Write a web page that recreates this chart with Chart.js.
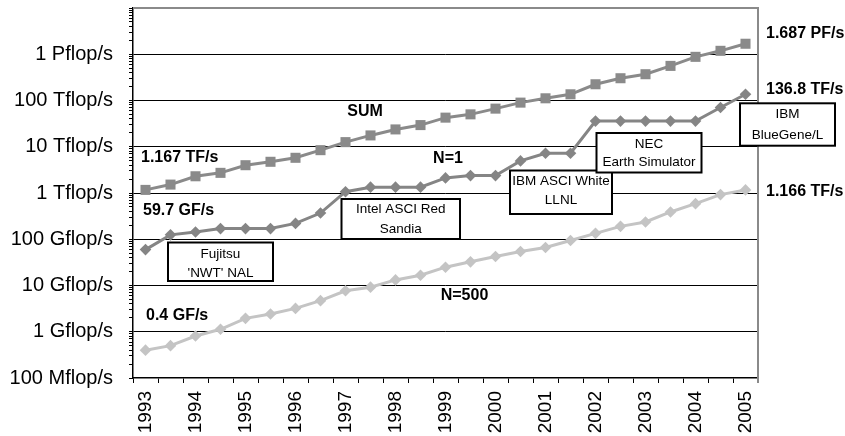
<!DOCTYPE html>
<html>
<head>
<meta charset="utf-8">
<script src="https://cdn.jsdelivr.net/npm/chart.js@4/dist/chart.umd.min.js"></script>
<style>
html,body{margin:0;padding:0;background:#fff;}
#wrap{width:845px;height:436px;position:relative;}
</style>
</head>
<body>
<div id="wrap"><canvas id="c" width="845" height="436"></canvas></div>
<script>
// ---- data (GF/s) ----
const lists = ['1993-06','1993-11','1994-06','1994-11','1995-06','1995-11','1996-06','1996-11',
  '1997-06','1997-11','1998-06','1998-11','1999-06','1999-11','2000-06','2000-11','2001-06','2001-11',
  '2002-06','2002-11','2003-06','2003-11','2004-06','2004-11','2005-06'];
const yearLabels = ['1993','','1994','','1995','','1996','','1997','','1998','','1999','','2000','',
  '2001','','2002','','2003','','2004','','2005'];
const sumValues = [1167, 1520, 2300, 2727, 3990, 4730, 5770, 8440, 12590, 17580, 23700, 29400, 42600,
  50200, 66700, 90000, 111600, 136200, 224500, 303000, 370000, 560000, 879000, 1186000, 1687000];
const n1Values = [59.7, 124.5, 143.4, 170, 170, 170, 220.4, 368.2, 1068, 1338, 1338, 1338, 2121, 2379,
  2379, 4938, 7226, 7226, 35860, 35860, 35860, 35860, 35860, 70720, 136800];
const n500Values = [0.4, 0.50, 0.81, 1.13, 1.95, 2.42, 3.2, 4.7, 7.7, 9.2, 13.2, 16.7, 24.9, 32.5, 42.4,
  54.4, 66.4, 94.2, 134, 190, 236, 389, 589, 923, 1166];
const decadeValues = [0.1, 1, 10, 100, 1000, 10000, 100000, 1000000, 10000000];
const yTickLabels = ['100 Mflop/s','1 Gflop/s','10 Gflop/s','100 Gflop/s','1 Tflop/s','10 Tflop/s',
  '100 Tflop/s','1 Pflop/s',''];

const FONT = "'Liberation Sans', Arial, Helvetica, sans-serif";

function isDecade(v){ const l = Math.log10(v); return Math.abs(l - Math.round(l)) < 1e-9; }
function decadeIndex(v){ return decadeValues.findIndex(d => Math.abs(Math.log10(d) - Math.log10(v)) < 1e-9); }

// annotation texts (pixel placement)
const boldLabels = [
  {t:'1.687 PF/s', x:766, y:34, a:'left'},
  {t:'136.8 TF/s', x:766, y:90, a:'left'},
  {t:'1.166 TF/s', x:766, y:191.5, a:'left'},
  {t:'1.167 TF/s', x:141, y:158, a:'left'},
  {t:'59.7 GF/s', x:143, y:211, a:'left'},
  {t:'0.4 GF/s', x:146, y:315.5, a:'left'},
  {t:'SUM', x:365, y:111.5, a:'center'},
  {t:'N=1', x:448, y:159, a:'center'},
  {t:'N=500', x:464.5, y:296, a:'center'}
];
const boxes = [
  {lines:['Fujitsu',"'NWT' NAL"], x0:168, x1:273, y0:242.5, y1:281, ty:[254.3,273.3]},
  {lines:['Intel ASCI Red','Sandia'], x0:341.5, x1:460, y0:199, y1:239, ty:[209.3,229.3]},
  {lines:['IBM ASCI White','LLNL'], x0:510, x1:612, y0:170.5, y1:214, ty:[181.7,200.7]},
  {lines:['NEC','Earth Simulator'], x0:596.5, x1:701.5, y0:133, y1:172.5, ty:[144,162.7]},
  {lines:['IBM','BlueGene/L'], x0:740, x1:835, y0:103.3, y1:145.7, ty:[114,135]}
];

const decor = {
  id:'decor',
  beforeDraw(chart){
    const ctx = chart.ctx;
    ctx.save(); ctx.fillStyle='#fff'; ctx.fillRect(0,0,chart.width,chart.height); ctx.restore();
  },
  beforeDatasetsDraw(chart){
    const {ctx, chartArea:a} = chart;
    ctx.save();
    ctx.strokeStyle='#8a8a8a'; ctx.lineWidth=2;
    ctx.beginPath();
    ctx.moveTo(a.left, a.top); ctx.lineTo(a.right, a.top); ctx.lineTo(a.right, a.bottom+5);
    ctx.stroke();
    ctx.restore();
  },
  afterDatasetsDraw(chart){
    const ctx = chart.ctx;
    ctx.save();
    ctx.fillStyle='#000';
    ctx.textBaseline='middle';
    ctx.font = "bold 16px " + FONT;
    boldLabels.forEach(l => { ctx.textAlign = l.a; ctx.fillText(l.t, l.x, l.y); });
    boxes.forEach(b => {
      ctx.fillStyle='#fff';
      ctx.fillRect(b.x0, b.y0, b.x1-b.x0, b.y1-b.y0);
      ctx.strokeStyle='#000'; ctx.lineWidth=2;
      ctx.strokeRect(b.x0, b.y0, b.x1-b.x0, b.y1-b.y0);
      ctx.fillStyle='#000';
      ctx.font = "13.5px " + FONT;
      ctx.textAlign='center';
      b.lines.forEach((s,i) => ctx.fillText(s, (b.x0+b.x1)/2, b.ty[i]));
    });
    ctx.restore();
  }
};

new Chart(document.getElementById('c'), {
  type:'line',
  data:{
    labels: lists,
    datasets:[
      {label:'SUM', data:sumValues, borderColor:'#8a8a8a', backgroundColor:'#8a8a8a',
       borderWidth:3, pointStyle:'rect', pointRadius:7.1, pointBorderWidth:0, tension:0},
      {label:'N=1', data:n1Values, borderColor:'#858585', backgroundColor:'#858585',
       borderWidth:3, pointStyle:'rectRot', pointRadius:5.8, pointBorderWidth:0, tension:0},
      {label:'N=500', data:n500Values, borderColor:'#c4c4c4', backgroundColor:'#c4c4c4',
       borderWidth:3, pointStyle:'rectRot', pointRadius:5.8, pointBorderWidth:0, tension:0}
    ]
  },
  options:{
    responsive:false,
    animation:false,
    layout:{padding:{top:8, right:87, left:0, bottom:0}},
    plugins:{legend:{display:false}, tooltip:{enabled:false}},
    scales:{
      x:{
        type:'category',
        offset:true,
        afterFit(s){ s.height = 58; s.paddingLeft = 0; s.paddingRight = 0; },
        grid:{offset:true, drawOnChartArea:false, drawTicks:true, tickLength:5, tickColor:'#000', color:'#000'},
        border:{color:'#000', width:1.5},
        ticks:{autoSkip:false, maxRotation:90, minRotation:90, padding:8, color:'#000',
          font:{family:FONT, size:19},
          callback:(v,i) => yearLabels[i]}
      },
      y:{
        type:'logarithmic',
        min:0.1, max:1e7,
        afterFit(s){ s.width = 133; s.paddingTop = 0; s.paddingBottom = 0; },
        afterBuildTicks(s){
          const t = [];
          for (let e=-1; e<7; e++) for (let m=1; m<10; m++) t.push({value: m*Math.pow(10,e)});
          t.push({value:1e7});
          s.ticks = t;
        },
        grid:{
          color:(c) => (c.tick && isDecade(c.tick.value) && c.tick.value < 1e7 && c.tick.value > 0.1) ? '#000' : 'rgba(0,0,0,0)',
          tickColor:'#000', tickLength:4, lineWidth:1
        },
        border:{color:'#000', width:1.5},
        ticks:{autoSkip:false, padding:16, color:'#000', font:{family:FONT, size:20},
          callback:(v) => { if (!isDecade(v)) return ''; const i = decadeIndex(v); return i>=0 ? yTickLabels[i] : ''; }}
      }
    }
  },
  plugins:[decor]
});
</script>
</body>
</html>
